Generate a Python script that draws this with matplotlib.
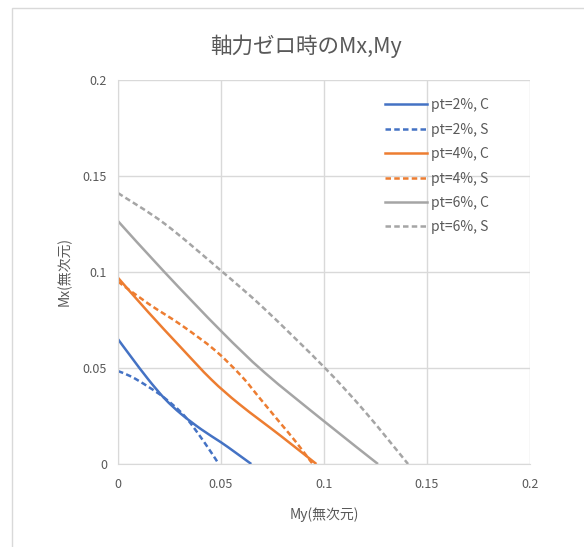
import numpy as np
import matplotlib
matplotlib.use('Agg')
import matplotlib.pyplot as plt
from matplotlib.patches import Rectangle, PathPatch
from matplotlib.path import Path
from matplotlib.lines import Line2D

plt.rcParams['font.family'] = ['Noto Sans CJK JP', 'DejaVu Sans']

# 読み取った値 (My, Mx)
my_2c = [0, 0.0065, 0.0146, 0.0227, 0.0307, 0.0405, 0.050, 0.0566, 0.0647]
mx_2c = [0.065, 0.0556, 0.0442, 0.034, 0.026, 0.018, 0.0113, 0.0063, 0]
my_2s = [0, 0.0065, 0.0146, 0.0227, 0.0324, 0.0421, 0.0489]
mx_2s = [0.0484, 0.0455, 0.0403, 0.0343, 0.0249, 0.011, 0]
my_4c = [0, 0.0146, 0.0307, 0.0453, 0.0591, 0.0793, 0.0963]
mx_4c = [0.097, 0.0792, 0.0605, 0.044, 0.031, 0.0144, 0]
my_4s = [0, 0.0146, 0.0308, 0.047, 0.060, 0.0688, 0.0785, 0.0866, 0.0945]
mx_4s = [0.095, 0.0836, 0.0723, 0.0593, 0.0457, 0.0343, 0.0217, 0.0112, 0]
my_6c = [0, 0.0227, 0.050, 0.0712, 0.100, 0.1262]
mx_6c = [0.1265, 0.0998, 0.0693, 0.0476, 0.0223, 0]
my_6s = [0, 0.0227, 0.050, 0.0712, 0.100, 0.1197, 0.1408]
mx_6s = [0.1411, 0.1251, 0.1007, 0.0807, 0.0505, 0.0275, 0]

series = [
    (my_2c, mx_2c, 'pt=2%, C', '#4472C4', '-'),
    (my_2s, mx_2s, 'pt=2%, S', '#4472C4', '--'),
    (my_4c, mx_4c, 'pt=4%, C', '#ED7D31', '-'),
    (my_4s, mx_4s, 'pt=4%, S', '#ED7D31', '--'),
    (my_6c, mx_6c, 'pt=6%, C', '#A5A5A5', '-'),
    (my_6s, mx_6s, 'pt=6%, S', '#A5A5A5', '--'),
]
ticks = [0, 0.05, 0.1, 0.15, 0.2]
tick_labels = ['0', '0.05', '0.1', '0.15', '0.2']
dash = (0, (2.2, 1.3))


def smooth_path(x, y):
    # Excelの「スムージング線」風にベジェ曲線で点をつなぐ
    p = np.column_stack([x, y])
    verts = [p[0]]
    codes = [Path.MOVETO]
    n = len(p)
    for i in range(n - 1):
        p0 = p[max(i - 1, 0)]
        p1 = p[i]
        p2 = p[i + 1]
        p3 = p[min(i + 2, n - 1)]
        verts += [p1 + (p2 - p0) / 6, p2 - (p3 - p1) / 6, p2]
        codes += [Path.CURVE4] * 3
    return Path(verts, codes)


fig = plt.figure(figsize=(5.84, 5.47), dpi=100)
fig.patches.append(Rectangle((12/584, -0.1), 1.2, 1 - 8/547 + 0.1, transform=fig.transFigure,
                             fill=False, edgecolor='#d9d9d9', lw=1))
ax = fig.add_axes([118/584, 1 - 464/547, 412/584, 384/547])

handles = []
for x, y, lab, c, ls in series:
    style = dash if ls == '--' else '-'
    ax.add_patch(PathPatch(smooth_path(x, y), facecolor='none', edgecolor=c, lw=1.8,
                           linestyle=style, capstyle='butt'))
    handles.append(Line2D([], [], color=c, lw=1.8, linestyle=style, label=lab))

ax.set_xlim(0, 0.2)
ax.set_ylim(0, 0.2)
ax.set_xticks(ticks)
ax.set_xticklabels(tick_labels)
ax.set_yticks(ticks)
ax.set_yticklabels(tick_labels)
ax.tick_params(length=0, labelsize=9, colors='#595959', pad=8)
ax.tick_params(axis='x', pad=10)
ax.grid(True, color='#d9d9d9', lw=1)
ax.set_axisbelow(True)
for s in ['top', 'right']:
    ax.spines[s].set_visible(False)
for s in ['left', 'bottom']:
    ax.spines[s].set_color('#d9d9d9')

ax.set_xlabel('My(無次元)', fontsize=10, color='#595959', labelpad=12)
ax.set_ylabel('Mx(無次元)', fontsize=10, color='#595959', labelpad=8)
fig.text(306/584, 1 - 46/547, '軸力ゼロ時のMx,My', fontsize=15.5, color='#595959',
         ha='center', va='center')

leg = ax.legend(handles=handles, loc='upper right', bbox_to_anchor=(0.93, 0.985), frameon=False,
                fontsize=10, labelcolor='#595959', handlelength=3.0, handletextpad=0.3,
                labelspacing=0.75)

fig.savefig('out.png', dpi=100)
